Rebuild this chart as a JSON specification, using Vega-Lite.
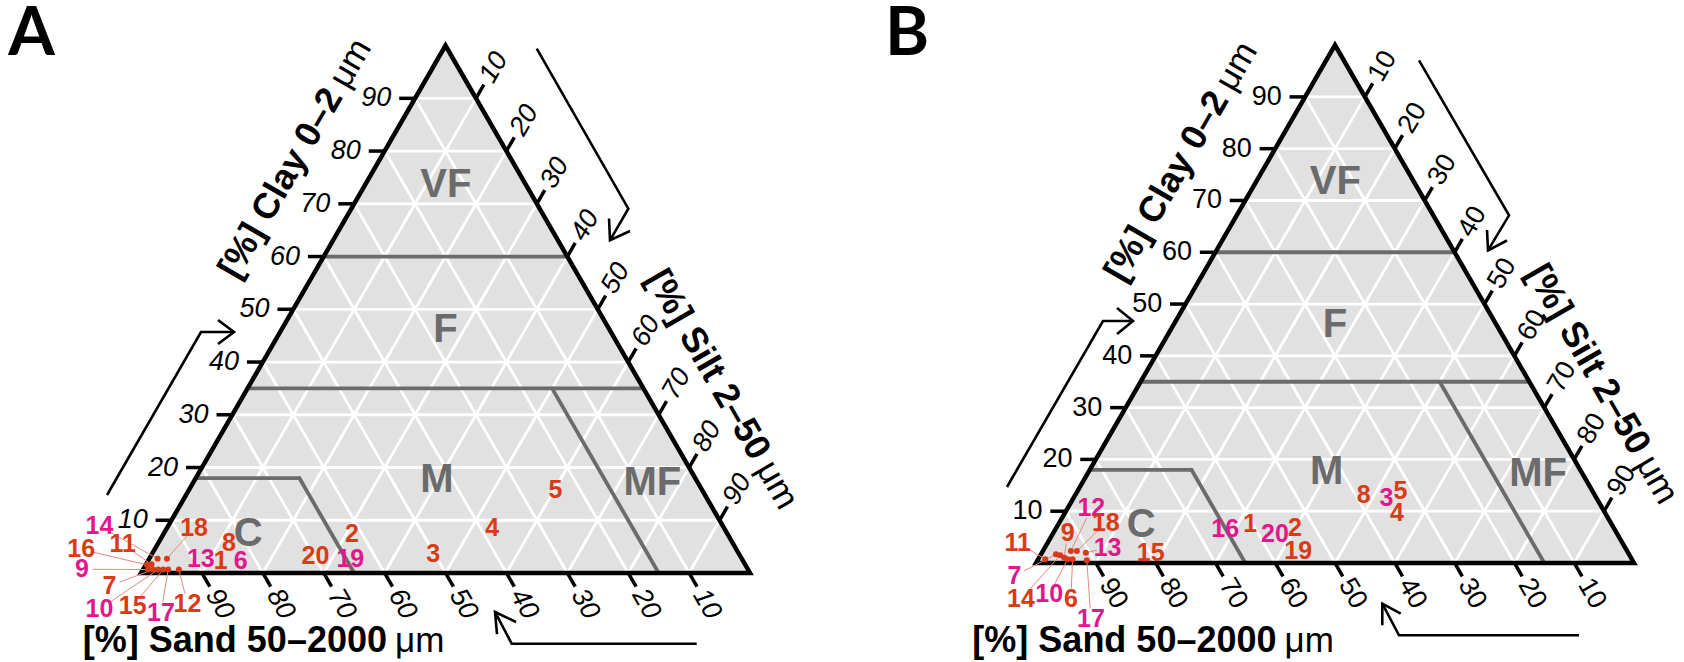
{
"$schema":"https://vega.github.io/schema/vega-lite/v6.json",
"padding":0,
"spacing":0,
"bounds":"flush",
"config":{"view":{"stroke":null},"font":"Liberation Sans"},
"datasets":{
"frame":[{"k":1,"silt":50,"clay":0},{"k":2,"silt":100,"clay":0},{"k":3,"silt":0,"clay":100},{"k":4,"silt":0,"clay":0},{"k":5,"silt":50,"clay":0}],
"scale":[{"axis":"clay","v":10},{"axis":"clay","v":20},{"axis":"clay","v":30},{"axis":"clay","v":40},{"axis":"clay","v":50},{"axis":"clay","v":60},{"axis":"clay","v":70},{"axis":"clay","v":80},{"axis":"clay","v":90},
{"axis":"sand","v":10},{"axis":"sand","v":20},{"axis":"sand","v":30},{"axis":"sand","v":40},{"axis":"sand","v":50},{"axis":"sand","v":60},{"axis":"sand","v":70},{"axis":"sand","v":80},{"axis":"sand","v":90},
{"axis":"silt","v":10},{"axis":"silt","v":20},{"axis":"silt","v":30},{"axis":"silt","v":40},{"axis":"silt","v":50},{"axis":"silt","v":60},{"axis":"silt","v":70},{"axis":"silt","v":80},{"axis":"silt","v":90}],
"borders":[{"s1":0,"c1":60,"s2":40,"c2":60},{"s1":0,"c1":35,"s2":65,"c2":35},{"s1":0,"c1":18,"s2":17,"c2":18},{"s1":17,"c1":18,"s2":35,"c2":0},{"s1":50,"c1":35,"s2":85,"c2":0}],
"regions":[{"name":"VF","silt":13.3,"clay":73.5},{"name":"F","silt":27,"clay":46},{"name":"M","silt":39.8,"clay":17.6},{"name":"MF","silt":75.4,"clay":17.1},{"name":"C","silt":13.9,"clay":7.4}],
"arrows":[
{"panel":"A","part":"cs","k":1,"x":-5.58,"y":12.81},{"panel":"A","part":"cs","k":2,"x":9.85,"y":39.57},{"panel":"A","part":"cs","k":3,"x":15.27,"y":39.57},
{"panel":"A","part":"ch","k":1,"x":12.64,"y":41.54},{"panel":"A","part":"ch","k":2,"x":15.27,"y":39.57},{"panel":"A","part":"ch","k":3,"x":12.64,"y":37.6},
{"panel":"A","part":"ss","k":1,"x":64.98,"y":86.09},{"panel":"A","part":"ss","k":2,"x":80.02,"y":59.82},{"panel":"A","part":"ss","k":3,"x":77.01,"y":54.63},
{"panel":"A","part":"sh","k":1,"x":76.85,"y":58.21},{"panel":"A","part":"sh","k":2,"x":77.01,"y":54.63},{"panel":"A","part":"sh","k":3,"x":80.3,"y":56.16},
{"panel":"A","part":"ds","k":1,"x":91.25,"y":-11.61},{"panel":"A","part":"ds","k":2,"x":60.87,"y":-11.61},{"panel":"A","part":"ds","k":3,"x":58.13,"y":-6.4},
{"panel":"A","part":"dh","k":1,"x":58.46,"y":-10.02},{"panel":"A","part":"dh","k":2,"x":58.13,"y":-6.4},{"panel":"A","part":"dh","k":3,"x":61.58,"y":-8.05},
{"panel":"B","part":"cs","k":1,"x":-4.85,"y":12.71},{"panel":"B","part":"cs","k":2,"x":11.2,"y":40.47},{"panel":"B","part":"cs","k":3,"x":16.22,"y":40.47},
{"panel":"B","part":"ch","k":1,"x":13.55,"y":42.64},{"panel":"B","part":"ch","k":2,"x":16.22,"y":40.47},{"panel":"B","part":"ch","k":3,"x":13.55,"y":38.29},
{"panel":"B","part":"ss","k":1,"x":64.05,"y":84.06},{"panel":"B","part":"ss","k":2,"x":79.1,"y":58.14},{"panel":"B","part":"ss","k":3,"x":75.59,"y":52.29},
{"panel":"B","part":"sh","k":1,"x":75.42,"y":55.69},{"panel":"B","part":"sh","k":2,"x":75.59,"y":52.29},{"panel":"B","part":"sh","k":3,"x":78.76,"y":53.93},
{"panel":"B","part":"ds","k":1,"x":90.8,"y":-12.09},{"panel":"B","part":"ds","k":2,"x":60.7,"y":-12.09},{"panel":"B","part":"ds","k":3,"x":57.91,"y":-6.81},
{"panel":"B","part":"dh","k":1,"x":57.91,"y":-10.42},{"panel":"B","part":"dh","k":2,"x":57.91,"y":-6.81},{"panel":"B","part":"dh","k":3,"x":60.99,"y":-8.48}],
"notes":[
{"panel":"A","role":"clay","text":"[%] Clay 0–2","unit":"μm","x":32.02,"y":79.64},
{"panel":"A","role":"silt","text":"[%] Silt 2–50","unit":"μm","x":102.13,"y":18.56},
{"panel":"A","role":"sand","text":"[%] Sand 50–2000","unit":"μm","x":41.05,"y":-11.17},
{"panel":"A","role":"letter","text":"A","x":-17.98,"y":85.06},
{"panel":"B","role":"clay","text":"[%] Clay 0–2","unit":"μm","x":31.1,"y":78.93},
{"panel":"B","role":"silt","text":"[%] Silt 2–50","unit":"μm","x":101.5,"y":18.1},
{"panel":"B","role":"sand","text":"[%] Sand 50–2000","unit":"μm","x":40.89,"y":-13.04},
{"panel":"B","role":"letter","text":"B","x":-21.57,"y":84.95}],
"samples":[
{"panel":"A","id":"1","tone":"red","silt":11.96,"clay":2.27},
{"panel":"A","id":"2","tone":"red","silt":30.99,"clay":7.31},
{"panel":"A","id":"3","tone":"red","silt":46.2,"clay":3.6},
{"panel":"A","id":"4","tone":"red","silt":53.4,"clay":8.5},
{"panel":"A","id":"5","tone":"red","silt":60.2,"clay":15.7},
{"panel":"A","id":"6","tone":"magenta","silt":15.23,"clay":2.27},
{"panel":"A","id":"7","tone":"red","silt":1.68,"clay":0.66,"label_silt":-3.96,"label_clay":-2.46},
{"panel":"A","id":"8","tone":"red","silt":11.59,"clay":5.73},
{"panel":"A","id":"9","tone":"magenta","silt":0.86,"clay":0.66,"label_silt":-10.06,"label_clay":0.7},
{"panel":"A","id":"10","tone":"magenta","silt":2.5,"clay":0.66,"label_silt":-3.39,"label_clay":-6.86},
{"panel":"A","id":"11","tone":"red","silt":0.9,"clay":1.64,"label_silt":-5.71,"label_clay":5.42},
{"panel":"A","id":"12","tone":"red","silt":5.89,"clay":0.66,"label_silt":10.6,"label_clay":-5.92},
{"panel":"A","id":"13","tone":"magenta","silt":8.53,"clay":2.59},
{"panel":"A","id":"14","tone":"magenta","silt":1.38,"clay":2.7,"label_silt":-11.26,"label_clay":8.88},
{"panel":"A","id":"15","tone":"red","silt":3.32,"clay":0.66,"label_silt":1.76,"label_clay":-6.24},
{"panel":"A","id":"16","tone":"red","silt":0.21,"clay":1.55,"label_silt":-12.06,"label_clay":4.48},
{"panel":"A","id":"17","tone":"magenta","silt":4.14,"clay":0.66,"label_silt":7.02,"label_clay":-7.5},
{"panel":"A","id":"18","tone":"red","silt":2.91,"clay":2.7,"label_silt":4.44,"label_clay":8.56},
{"panel":"A","id":"19","tone":"magenta","silt":33.07,"clay":2.59},
{"panel":"A","id":"20","tone":"red","silt":27.04,"clay":3.21},
{"panel":"B","id":"1","tone":"red","silt":32.1,"clay":7.45},
{"panel":"B","id":"2","tone":"red","silt":39.9,"clay":6.79},
{"panel":"B","id":"3","tone":"magenta","silt":52.3,"clay":12.6},
{"panel":"B","id":"4","tone":"red","silt":55.5,"clay":9.68},
{"panel":"B","id":"5","tone":"red","silt":54.0,"clay":13.86},
{"panel":"B","id":"6","tone":"red","silt":5.76,"clay":0.71,"label_silt":9.33,"label_clay":-6.99},
{"panel":"B","id":"7","tone":"magenta","silt":2.5,"clay":1.67,"label_silt":-2.37,"label_clay":-2.5},
{"panel":"B","id":"8","tone":"red","silt":48.2,"clay":13.2},
{"panel":"B","id":"9","tone":"red","silt":4.21,"clay":1.02,"label_silt":2.37,"label_clay":5.83},
{"panel":"B","id":"10","tone":"magenta","silt":4.93,"clay":0.71,"label_silt":5.23,"label_clay":-6.03},
{"panel":"B","id":"11","tone":"red","silt":1.2,"clay":0.71,"label_silt":-5.0,"label_clay":3.9},
{"panel":"B","id":"12","tone":"magenta","silt":4.68,"clay":2.31,"label_silt":3.96,"label_clay":10.6},
{"panel":"B","id":"13","tone":"magenta","silt":7.34,"clay":1.98,"label_silt":10.5,"label_clay":2.94},
{"panel":"B","id":"14","tone":"red","silt":3.31,"clay":1.48,"label_silt":0.99,"label_clay":-6.99},
{"panel":"B","id":"15","tone":"red","silt":18.2,"clay":1.98},
{"panel":"B","id":"16","tone":"magenta","silt":28.4,"clay":6.49},
{"panel":"B","id":"17","tone":"magenta","silt":8.24,"clay":0.52,"label_silt":14.6,"label_clay":-10.83},
{"panel":"B","id":"18","tone":"red","silt":5.68,"clay":2.31,"label_silt":7.79,"label_clay":7.76},
{"panel":"B","id":"19","tone":"red","silt":42.7,"clay":2.31},
{"panel":"B","id":"20","tone":"magenta","silt":37.2,"clay":5.52}]
},
"hconcat":[
{
"width":842,"height":662,
"layer":[
{"data":{"name":"frame"},"transform":[{"filter":"datum.k>=2 && datum.k<=4"},{"calculate":"datum.silt+datum.clay/2","as":"fx"},{"calculate":"datum.clay*0.8660254","as":"fy"}],
 "mark":{"type":"area","color":"#e1e1e1"},
 "encoding":{"x":{"field":"fx","type":"quantitative","scale":{"domain":[-23.153,115.106],"nice":false,"zero":false},"axis":null},"y":{"field":"fy","type":"quantitative","scale":{"domain":[-14.943,93.76],"nice":false,"zero":false},"axis":null},"y2":{"datum":0}}},
{"data":{"name":"scale"},"transform":[
 {"calculate":"datum.axis=='clay' ? datum.v/2 : datum.axis=='sand' ? 100-datum.v : 50+datum.v/2","as":"ex"},
 {"calculate":"datum.axis=='clay' ? datum.v*0.8660254 : datum.axis=='sand' ? 0 : (100-datum.v)*0.8660254","as":"ey"},
 {"calculate":"datum.axis=='clay' ? 100-datum.v/2 : datum.axis=='sand' ? (100-datum.v)/2 : datum.v","as":"gx"},
 {"calculate":"datum.axis=='clay' ? datum.v*0.8660254 : datum.axis=='sand' ? (100-datum.v)*0.8660254 : 0","as":"gy"}],
 "mark":{"type":"rule","color":"white","strokeWidth":2.8},
 "encoding":{"x":{"field":"ex","type":"quantitative","scale":{"domain":[-23.153,115.106],"nice":false,"zero":false},"axis":null},"y":{"field":"ey","type":"quantitative","scale":{"domain":[-14.943,93.76],"nice":false,"zero":false},"axis":null},"x2":{"field":"gx"},"y2":{"field":"gy"}}},
{"data":{"name":"borders"},"transform":[{"calculate":"datum.s1+datum.c1/2","as":"bx1"},{"calculate":"datum.c1*0.8660254","as":"by1"},{"calculate":"datum.s2+datum.c2/2","as":"bx2"},{"calculate":"datum.c2*0.8660254","as":"by2"}],
 "mark":{"type":"rule","color":"#6b6b6b","strokeWidth":3.8,"strokeCap":"round"},
 "encoding":{"x":{"field":"bx1","type":"quantitative","scale":{"domain":[-23.153,115.106],"nice":false,"zero":false},"axis":null},"y":{"field":"by1","type":"quantitative","scale":{"domain":[-14.943,93.76],"nice":false,"zero":false},"axis":null},"x2":{"field":"bx2"},"y2":{"field":"by2"}}},
{"data":{"name":"frame"},"transform":[{"calculate":"datum.silt+datum.clay/2","as":"fx"},{"calculate":"datum.clay*0.8660254","as":"fy"}],
 "mark":{"type":"line","color":"black","strokeWidth":4.5,"strokeJoin":"miter","strokeCap":"butt"},
 "encoding":{"x":{"field":"fx","type":"quantitative","scale":{"domain":[-23.153,115.106],"nice":false,"zero":false},"axis":null},"y":{"field":"fy","type":"quantitative","scale":{"domain":[-14.943,93.76],"nice":false,"zero":false},"axis":null},"order":{"field":"k","type":"quantitative"}}},
{"data":{"name":"scale"},"transform":[
 {"calculate":"datum.axis=='clay' ? datum.v/2 : datum.axis=='sand' ? 100-datum.v : 50+datum.v/2","as":"ex"},
 {"calculate":"datum.axis=='clay' ? datum.v*0.8660254 : datum.axis=='sand' ? 0 : (100-datum.v)*0.8660254","as":"ey"},
 {"calculate":"datum.axis=='clay' ? -1 : 0.5","as":"ux"},
 {"calculate":"datum.axis=='clay' ? 0 : datum.axis=='sand' ? -0.8660254 : 0.8660254","as":"uy"},
 {"calculate":"datum.ex + 2.6*datum.ux","as":"tx"},
 {"calculate":"datum.ey + 2.6*datum.uy","as":"ty"},
 {"calculate":"datum.ex + (datum.axis=='clay' ? 3.9 : 3.4)*datum.ux","as":"lx"},
 {"calculate":"datum.ey + (datum.axis=='clay' ? 3.9 : 3.4)*datum.uy","as":"ly"}],
 "layer":[
 {"mark":{"type":"rule","color":"black","strokeWidth":3.5},
  "encoding":{"x":{"field":"ex","type":"quantitative","scale":{"domain":[-23.153,115.106],"nice":false,"zero":false},"axis":null},"y":{"field":"ey","type":"quantitative","scale":{"domain":[-14.943,93.76],"nice":false,"zero":false},"axis":null},"x2":{"field":"tx"},"y2":{"field":"ty"}}},
 {"transform":[{"filter":"datum.axis=='clay'"}],
  "mark":{"type":"text","align":"right","baseline":"middle","fontSize":27,"fontStyle":"italic","font":"Liberation Sans","color":"black"},
  "encoding":{"x":{"field":"lx","type":"quantitative","scale":{"domain":[-23.153,115.106],"nice":false,"zero":false},"axis":null},"y":{"field":"ly","type":"quantitative","scale":{"domain":[-14.943,93.76],"nice":false,"zero":false},"axis":null},"text":{"field":"v","type":"nominal"}}},
 {"transform":[{"filter":"datum.axis=='sand'"}],
  "mark":{"type":"text","align":"left","baseline":"middle","angle":60,"fontSize":27,"fontStyle":"italic","font":"Liberation Sans","color":"black"},
  "encoding":{"x":{"field":"lx","type":"quantitative","scale":{"domain":[-23.153,115.106],"nice":false,"zero":false},"axis":null},"y":{"field":"ly","type":"quantitative","scale":{"domain":[-14.943,93.76],"nice":false,"zero":false},"axis":null},"text":{"field":"v","type":"nominal"}}},
 {"transform":[{"filter":"datum.axis=='silt'"}],
  "mark":{"type":"text","align":"left","baseline":"middle","angle":300,"fontSize":27,"fontStyle":"italic","font":"Liberation Sans","color":"black"},
  "encoding":{"x":{"field":"lx","type":"quantitative","scale":{"domain":[-23.153,115.106],"nice":false,"zero":false},"axis":null},"y":{"field":"ly","type":"quantitative","scale":{"domain":[-14.943,93.76],"nice":false,"zero":false},"axis":null},"text":{"field":"v","type":"nominal"}}}
 ]},
{"data":{"name":"regions"},"transform":[{"calculate":"datum.silt+datum.clay/2","as":"rx"},{"calculate":"datum.clay*0.8660254","as":"ry"}],
 "mark":{"type":"text","align":"center","baseline":"middle","fontSize":40,"fontWeight":"bold","font":"Liberation Sans","color":"#6b6b6b"},
 "encoding":{"x":{"field":"rx","type":"quantitative","scale":{"domain":[-23.153,115.106],"nice":false,"zero":false},"axis":null},"y":{"field":"ry","type":"quantitative","scale":{"domain":[-14.943,93.76],"nice":false,"zero":false},"axis":null},"text":{"field":"name","type":"nominal"}}},
{"data":{"name":"arrows"},"transform":[{"filter":"datum.panel=='A'"}],
 "mark":{"type":"line","color":"black","strokeWidth":2.6,"strokeJoin":"miter"},
 "encoding":{"x":{"field":"x","type":"quantitative","scale":{"domain":[-23.153,115.106],"nice":false,"zero":false},"axis":null},"y":{"field":"y","type":"quantitative","scale":{"domain":[-14.943,93.76],"nice":false,"zero":false},"axis":null},"detail":{"field":"part","type":"nominal"},"order":{"field":"k","type":"quantitative"}}},
{"data":{"name":"notes"},"transform":[{"filter":"datum.panel=='A'"},{"calculate":"datum.role=='clay' ? 300 : datum.role=='silt' ? 60 : 0","as":"ang"}],
 "layer":[
 {"transform":[{"filter":"datum.role!='letter'"}],
  "mark":{"type":"text","align":"right","baseline":"middle","dx":-4,"fontSize":36,"fontWeight":"bold","font":"Liberation Sans","color":"black"},
  "encoding":{"x":{"field":"x","type":"quantitative","scale":{"domain":[-23.153,115.106],"nice":false,"zero":false},"axis":null},"y":{"field":"y","type":"quantitative","scale":{"domain":[-14.943,93.76],"nice":false,"zero":false},"axis":null},"text":{"field":"text","type":"nominal"},"angle":{"field":"ang","type":"quantitative","scale":null}}},
 {"transform":[{"filter":"datum.role!='letter'"}],
  "mark":{"type":"text","align":"left","baseline":"middle","dx":4,"fontSize":35,"font":"Liberation Sans","color":"black"},
  "encoding":{"x":{"field":"x","type":"quantitative","scale":{"domain":[-23.153,115.106],"nice":false,"zero":false},"axis":null},"y":{"field":"y","type":"quantitative","scale":{"domain":[-14.943,93.76],"nice":false,"zero":false},"axis":null},"text":{"field":"unit","type":"nominal"},"angle":{"field":"ang","type":"quantitative","scale":null}}},
 {"transform":[{"filter":"datum.role=='letter'"}],
  "mark":{"type":"text","align":"center","baseline":"alphabetic","fontSize":67,"fontWeight":"bold","font":"Lato","color":"black"},
  "encoding":{"x":{"field":"x","type":"quantitative","scale":{"domain":[-23.153,115.106],"nice":false,"zero":false},"axis":null},"y":{"field":"y","type":"quantitative","scale":{"domain":[-14.943,93.76],"nice":false,"zero":false},"axis":null},"text":{"field":"text","type":"nominal"}}}
 ]},
{"data":{"name":"samples"},"transform":[{"filter":"datum.panel=='A'"},
 {"calculate":"datum.silt+datum.clay/2","as":"px"},{"calculate":"datum.clay*0.8660254","as":"py"},
 {"calculate":"isValid(datum.label_silt) ? datum.label_silt+datum.label_clay/2 : datum.silt+datum.clay/2","as":"lx0"},
 {"calculate":"isValid(datum.label_clay) ? datum.label_clay*0.8660254 : datum.clay*0.8660254","as":"ly0"}],
 "layer":[
 {"transform":[{"filter":"isValid(datum.label_silt)"},{"calculate":"sqrt(pow(datum.lx0-datum.px,2)+pow(datum.ly0-datum.py,2))","as":"dd"},{"calculate":"datum.px+(datum.lx0-datum.px)*max(0,1-1.8/datum.dd)","as":"qx"},{"calculate":"datum.py+(datum.ly0-datum.py)*max(0,1-1.8/datum.dd)","as":"qy"}],
  "mark":{"type":"rule","color":"#e8877c","strokeWidth":1},
  "encoding":{"x":{"field":"px","type":"quantitative","scale":{"domain":[-23.153,115.106],"nice":false,"zero":false},"axis":null},"y":{"field":"py","type":"quantitative","scale":{"domain":[-14.943,93.76],"nice":false,"zero":false},"axis":null},"x2":{"field":"qx"},"y2":{"field":"qy"}}},
 {"transform":[{"filter":"isValid(datum.label_silt)"}],
  "mark":{"type":"circle","color":"#d63a1a","opacity":1,"size":36},
  "encoding":{"x":{"field":"px","type":"quantitative","scale":{"domain":[-23.153,115.106],"nice":false,"zero":false},"axis":null},"y":{"field":"py","type":"quantitative","scale":{"domain":[-14.943,93.76],"nice":false,"zero":false},"axis":null}}},
 {"mark":{"type":"text","align":"center","baseline":"middle","fontSize":25,"fontWeight":"bold","font":"Liberation Sans"},
  "encoding":{"x":{"field":"lx0","type":"quantitative","scale":{"domain":[-23.153,115.106],"nice":false,"zero":false},"axis":null},"y":{"field":"ly0","type":"quantitative","scale":{"domain":[-14.943,93.76],"nice":false,"zero":false},"axis":null},"text":{"field":"id","type":"nominal"},"color":{"field":"tone","type":"nominal","scale":{"domain":["red","magenta"],"range":["#d93b16","#e3168c"]},"legend":null}}}
 ]}
]
},
{
"width":842,"height":662,
"layer":[
{"data":{"name":"frame"},"transform":[{"filter":"datum.k>=2 && datum.k<=4"},{"calculate":"datum.silt+datum.clay/2","as":"fx"},{"calculate":"datum.clay*0.8660254","as":"fy"}],
 "mark":{"type":"area","color":"#e1e1e1"},
 "encoding":{"x":{"field":"fx","type":"quantitative","scale":{"domain":[-32.441,108.362],"nice":false,"zero":false},"axis":null},"y":{"field":"fy","type":"quantitative","scale":{"domain":[-16.89,93.812],"nice":false,"zero":false},"axis":null},"y2":{"datum":0}}},
{"data":{"name":"scale"},"transform":[
 {"calculate":"datum.axis=='clay' ? datum.v/2 : datum.axis=='sand' ? 100-datum.v : 50+datum.v/2","as":"ex"},
 {"calculate":"datum.axis=='clay' ? datum.v*0.8660254 : datum.axis=='sand' ? 0 : (100-datum.v)*0.8660254","as":"ey"},
 {"calculate":"datum.axis=='clay' ? 100-datum.v/2 : datum.axis=='sand' ? (100-datum.v)/2 : datum.v","as":"gx"},
 {"calculate":"datum.axis=='clay' ? datum.v*0.8660254 : datum.axis=='sand' ? (100-datum.v)*0.8660254 : 0","as":"gy"}],
 "mark":{"type":"rule","color":"white","strokeWidth":2.8},
 "encoding":{"x":{"field":"ex","type":"quantitative","scale":{"domain":[-32.441,108.362],"nice":false,"zero":false},"axis":null},"y":{"field":"ey","type":"quantitative","scale":{"domain":[-16.89,93.812],"nice":false,"zero":false},"axis":null},"x2":{"field":"gx"},"y2":{"field":"gy"}}},
{"data":{"name":"borders"},"transform":[{"calculate":"datum.s1+datum.c1/2","as":"bx1"},{"calculate":"datum.c1*0.8660254","as":"by1"},{"calculate":"datum.s2+datum.c2/2","as":"bx2"},{"calculate":"datum.c2*0.8660254","as":"by2"}],
 "mark":{"type":"rule","color":"#6b6b6b","strokeWidth":3.8,"strokeCap":"round"},
 "encoding":{"x":{"field":"bx1","type":"quantitative","scale":{"domain":[-32.441,108.362],"nice":false,"zero":false},"axis":null},"y":{"field":"by1","type":"quantitative","scale":{"domain":[-16.89,93.812],"nice":false,"zero":false},"axis":null},"x2":{"field":"bx2"},"y2":{"field":"by2"}}},
{"data":{"name":"frame"},"transform":[{"calculate":"datum.silt+datum.clay/2","as":"fx"},{"calculate":"datum.clay*0.8660254","as":"fy"}],
 "mark":{"type":"line","color":"black","strokeWidth":4.5,"strokeJoin":"miter","strokeCap":"butt"},
 "encoding":{"x":{"field":"fx","type":"quantitative","scale":{"domain":[-32.441,108.362],"nice":false,"zero":false},"axis":null},"y":{"field":"fy","type":"quantitative","scale":{"domain":[-16.89,93.812],"nice":false,"zero":false},"axis":null},"order":{"field":"k","type":"quantitative"}}},
{"data":{"name":"scale"},"transform":[
 {"calculate":"datum.axis=='clay' ? datum.v/2 : datum.axis=='sand' ? 100-datum.v : 50+datum.v/2","as":"ex"},
 {"calculate":"datum.axis=='clay' ? datum.v*0.8660254 : datum.axis=='sand' ? 0 : (100-datum.v)*0.8660254","as":"ey"},
 {"calculate":"datum.axis=='clay' ? -1 : 0.5","as":"ux"},
 {"calculate":"datum.axis=='clay' ? 0 : datum.axis=='sand' ? -0.8660254 : 0.8660254","as":"uy"},
 {"calculate":"datum.ex + 2.6*datum.ux","as":"tx"},
 {"calculate":"datum.ey + 2.6*datum.uy","as":"ty"},
 {"calculate":"datum.ex + (datum.axis=='clay' ? 3.9 : 3.4)*datum.ux","as":"lx"},
 {"calculate":"datum.ey + (datum.axis=='clay' ? 3.9 : 3.4)*datum.uy","as":"ly"}],
 "layer":[
 {"mark":{"type":"rule","color":"black","strokeWidth":3.5},
  "encoding":{"x":{"field":"ex","type":"quantitative","scale":{"domain":[-32.441,108.362],"nice":false,"zero":false},"axis":null},"y":{"field":"ey","type":"quantitative","scale":{"domain":[-16.89,93.812],"nice":false,"zero":false},"axis":null},"x2":{"field":"tx"},"y2":{"field":"ty"}}},
 {"transform":[{"filter":"datum.axis=='clay'"}],
  "mark":{"type":"text","align":"right","baseline":"middle","fontSize":27,"font":"Liberation Sans","color":"black"},
  "encoding":{"x":{"field":"lx","type":"quantitative","scale":{"domain":[-32.441,108.362],"nice":false,"zero":false},"axis":null},"y":{"field":"ly","type":"quantitative","scale":{"domain":[-16.89,93.812],"nice":false,"zero":false},"axis":null},"text":{"field":"v","type":"nominal"}}},
 {"transform":[{"filter":"datum.axis=='sand'"}],
  "mark":{"type":"text","align":"left","baseline":"middle","angle":60,"fontSize":27,"font":"Liberation Sans","color":"black"},
  "encoding":{"x":{"field":"lx","type":"quantitative","scale":{"domain":[-32.441,108.362],"nice":false,"zero":false},"axis":null},"y":{"field":"ly","type":"quantitative","scale":{"domain":[-16.89,93.812],"nice":false,"zero":false},"axis":null},"text":{"field":"v","type":"nominal"}}},
 {"transform":[{"filter":"datum.axis=='silt'"}],
  "mark":{"type":"text","align":"left","baseline":"middle","angle":300,"fontSize":27,"font":"Liberation Sans","color":"black"},
  "encoding":{"x":{"field":"lx","type":"quantitative","scale":{"domain":[-32.441,108.362],"nice":false,"zero":false},"axis":null},"y":{"field":"ly","type":"quantitative","scale":{"domain":[-16.89,93.812],"nice":false,"zero":false},"axis":null},"text":{"field":"v","type":"nominal"}}}
 ]},
{"data":{"name":"regions"},"transform":[{"calculate":"datum.silt+datum.clay/2","as":"rx"},{"calculate":"datum.clay*0.8660254","as":"ry"}],
 "mark":{"type":"text","align":"center","baseline":"middle","fontSize":40,"fontWeight":"bold","font":"Liberation Sans","color":"#6b6b6b"},
 "encoding":{"x":{"field":"rx","type":"quantitative","scale":{"domain":[-32.441,108.362],"nice":false,"zero":false},"axis":null},"y":{"field":"ry","type":"quantitative","scale":{"domain":[-16.89,93.812],"nice":false,"zero":false},"axis":null},"text":{"field":"name","type":"nominal"}}},
{"data":{"name":"arrows"},"transform":[{"filter":"datum.panel=='B'"}],
 "mark":{"type":"line","color":"black","strokeWidth":2.6,"strokeJoin":"miter"},
 "encoding":{"x":{"field":"x","type":"quantitative","scale":{"domain":[-32.441,108.362],"nice":false,"zero":false},"axis":null},"y":{"field":"y","type":"quantitative","scale":{"domain":[-16.89,93.812],"nice":false,"zero":false},"axis":null},"detail":{"field":"part","type":"nominal"},"order":{"field":"k","type":"quantitative"}}},
{"data":{"name":"notes"},"transform":[{"filter":"datum.panel=='B'"},{"calculate":"datum.role=='clay' ? 300 : datum.role=='silt' ? 60 : 0","as":"ang"}],
 "layer":[
 {"transform":[{"filter":"datum.role!='letter'"}],
  "mark":{"type":"text","align":"right","baseline":"middle","dx":-4,"fontSize":36,"fontWeight":"bold","font":"Liberation Sans","color":"black"},
  "encoding":{"x":{"field":"x","type":"quantitative","scale":{"domain":[-32.441,108.362],"nice":false,"zero":false},"axis":null},"y":{"field":"y","type":"quantitative","scale":{"domain":[-16.89,93.812],"nice":false,"zero":false},"axis":null},"text":{"field":"text","type":"nominal"},"angle":{"field":"ang","type":"quantitative","scale":null}}},
 {"transform":[{"filter":"datum.role!='letter'"}],
  "mark":{"type":"text","align":"left","baseline":"middle","dx":4,"fontSize":35,"font":"Liberation Sans","color":"black"},
  "encoding":{"x":{"field":"x","type":"quantitative","scale":{"domain":[-32.441,108.362],"nice":false,"zero":false},"axis":null},"y":{"field":"y","type":"quantitative","scale":{"domain":[-16.89,93.812],"nice":false,"zero":false},"axis":null},"text":{"field":"unit","type":"nominal"},"angle":{"field":"ang","type":"quantitative","scale":null}}},
 {"transform":[{"filter":"datum.role=='letter'"}],
  "mark":{"type":"text","align":"center","baseline":"alphabetic","fontSize":67,"fontWeight":"bold","font":"Lato","color":"black"},
  "encoding":{"x":{"field":"x","type":"quantitative","scale":{"domain":[-32.441,108.362],"nice":false,"zero":false},"axis":null},"y":{"field":"y","type":"quantitative","scale":{"domain":[-16.89,93.812],"nice":false,"zero":false},"axis":null},"text":{"field":"text","type":"nominal"}}}
 ]},
{"data":{"name":"samples"},"transform":[{"filter":"datum.panel=='B'"},
 {"calculate":"datum.silt+datum.clay/2","as":"px"},{"calculate":"datum.clay*0.8660254","as":"py"},
 {"calculate":"isValid(datum.label_silt) ? datum.label_silt+datum.label_clay/2 : datum.silt+datum.clay/2","as":"lx0"},
 {"calculate":"isValid(datum.label_clay) ? datum.label_clay*0.8660254 : datum.clay*0.8660254","as":"ly0"}],
 "layer":[
 {"transform":[{"filter":"isValid(datum.label_silt)"},{"calculate":"sqrt(pow(datum.lx0-datum.px,2)+pow(datum.ly0-datum.py,2))","as":"dd"},{"calculate":"datum.px+(datum.lx0-datum.px)*max(0,1-1.8/datum.dd)","as":"qx"},{"calculate":"datum.py+(datum.ly0-datum.py)*max(0,1-1.8/datum.dd)","as":"qy"}],
  "mark":{"type":"rule","color":"#e8877c","strokeWidth":1},
  "encoding":{"x":{"field":"px","type":"quantitative","scale":{"domain":[-32.441,108.362],"nice":false,"zero":false},"axis":null},"y":{"field":"py","type":"quantitative","scale":{"domain":[-16.89,93.812],"nice":false,"zero":false},"axis":null},"x2":{"field":"qx"},"y2":{"field":"qy"}}},
 {"transform":[{"filter":"isValid(datum.label_silt)"}],
  "mark":{"type":"circle","color":"#d63a1a","opacity":1,"size":36},
  "encoding":{"x":{"field":"px","type":"quantitative","scale":{"domain":[-32.441,108.362],"nice":false,"zero":false},"axis":null},"y":{"field":"py","type":"quantitative","scale":{"domain":[-16.89,93.812],"nice":false,"zero":false},"axis":null}}},
 {"mark":{"type":"text","align":"center","baseline":"middle","fontSize":25,"fontWeight":"bold","font":"Liberation Sans"},
  "encoding":{"x":{"field":"lx0","type":"quantitative","scale":{"domain":[-32.441,108.362],"nice":false,"zero":false},"axis":null},"y":{"field":"ly0","type":"quantitative","scale":{"domain":[-16.89,93.812],"nice":false,"zero":false},"axis":null},"text":{"field":"id","type":"nominal"},"color":{"field":"tone","type":"nominal","scale":{"domain":["red","magenta"],"range":["#d93b16","#e3168c"]},"legend":null}}}
 ]}
]
}
]
}
